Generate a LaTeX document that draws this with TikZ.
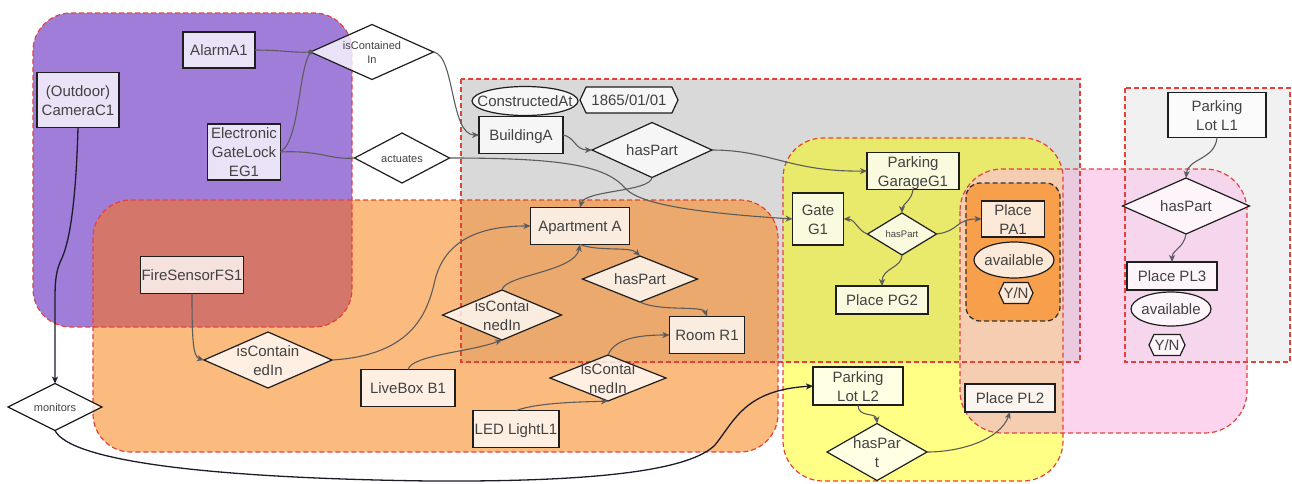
\documentclass[tikz,border=0pt]{standalone}
\usepackage{fontspec}
\setmainfont{Liberation Sans}
\usetikzlibrary{shapes.geometric,shapes.symbols,arrows.meta}
\definecolor{cP}{HTML}{A07DD8}
\definecolor{cO}{HTML}{FBBA7E}
\definecolor{cPO}{HTML}{D4776A}
\definecolor{cG}{HTML}{D9D9D9}
\definecolor{cGO}{HTML}{ECA96E}
\definecolor{cL}{HTML}{F1F1F1}
\definecolor{cY}{HTML}{FFFF85}
\definecolor{cGY}{HTML}{E9E96B}
\definecolor{cK}{HTML}{FCD4EE}
\definecolor{cYK}{HTML}{F5CEB2}
\definecolor{cGK}{HTML}{E9C9DE}
\definecolor{cLK}{HTML}{F6D6EC}
\definecolor{cD}{HTML}{F79F4B}
\definecolor{cRed}{HTML}{E5413B}
\definecolor{txt}{HTML}{424242}
\definecolor{edgec}{HTML}{5C5C5C}
\definecolor{edgek}{HTML}{1C1C2A}
\definecolor{nodeline}{HTML}{1E1E1E}
\newcommand\dt[1]{\smash{\makebox[0pt]{\raisebox{-0.36em}{\begin{tabular}{@{}c@{}}#1\end{tabular}}}}}
\newcommand\fsz[2]{\fontsize{#1}{#2}\selectfont}
\begin{document}
\begin{tikzpicture}[x=1pt,y=-1pt,
  base/.style={fill=white, fill opacity=0.78, text opacity=1, draw=nodeline, line width=1.2pt, inner sep=0pt, outer sep=0pt, text=txt, font=\fsz{15}{19}},
  bx/.style={base, rectangle},
  dm/.style={base, diamond},
  el/.style={base, ellipse},
  hx/.style={base, signal, signal to=west and east, signal pointer angle=130},
  small/.style={font=\fsz{11}{14}},
  tiny/.style={font=\fsz{9.5}{12}},
  edge/.style={draw=edgec, line width=1.1pt, -{Stealth[length=7pt,width=6pt,inset=2pt]}},
  edgeplain/.style={draw=edgec, line width=1.1pt},
  edgedark/.style={draw=edgek, line width=1.3pt, -{Stealth[length=7pt,width=6pt,inset=2pt]}},
  reg/.style={draw=cRed, line width=1.2pt, dash pattern=on 5pt off 3pt},
  regd/.style={draw=black!80, line width=1.3pt, dash pattern=on 5pt off 3pt}]
\useasboundingbox (0,0) rectangle (1292,483);
% ---------- region fills ----------
\fill[cL] (1125,88) rectangle (1290,362);
\fill[cG] (461,79) rectangle (1080,362);
\fill[cP, rounded corners=38pt] (33,13) rectangle (352,327);
\fill[cO, rounded corners=38pt] (93,200) rectangle (778,452);
\begin{scope}
  \clip[rounded corners=38pt] (33,13) rectangle (352,327);
  \fill[cPO, rounded corners=38pt] (93,200) rectangle (778,452);
\end{scope}
\begin{scope}
  \clip (461,79) rectangle (1080,362);
  \fill[cGO, rounded corners=38pt] (93,200) rectangle (778,452);
\end{scope}
\fill[cY, rounded corners=40pt] (783,138) rectangle (1063,481);
\begin{scope}
  \clip (461,79) rectangle (1080,362);
  \fill[cGY, rounded corners=40pt] (783,138) rectangle (1063,481);
\end{scope}
\fill[cK, rounded corners=42pt] (960,169) rectangle (1247,433);
\begin{scope}
  \clip[rounded corners=42pt] (960,169) rectangle (1247,433);
  \fill[cLK] (1125,88) rectangle (1290,362);
  \fill[cGK] (461,79) rectangle (1080,362);
  \fill[cYK, rounded corners=40pt] (783,138) rectangle (1063,481);
\end{scope}
\fill[cD, rounded corners=14pt] (966,183) rectangle (1060,321);
% ---------- region borders ----------
\draw[reg] (1125,88) rectangle (1290,362);
\draw[reg] (461,79) rectangle (1080,362);
\draw[reg, rounded corners=38pt] (33,13) rectangle (352,327);
\draw[reg, rounded corners=38pt] (93,200) rectangle (778,452);
\draw[reg, rounded corners=40pt] (783,138) rectangle (1063,481);
\draw[reg, rounded corners=42pt] (960,169) rectangle (1247,433);
\draw[regd, rounded corners=14pt] (966,183) rectangle (1060,321);
% ---------- nodes ----------
\node[bx, minimum width=82pt, minimum height=55pt] (cam) at (78,100) {\dt{(Outdoor)\\CameraC1}};
\node[bx, minimum width=72pt, minimum height=36pt] (alarm) at (219,50) {\dt{AlarmA1}};
\node[bx, minimum width=73pt, minimum height=56pt] (eg1) at (244,152) {\dt{Electronic\\GateLock\\EG1}};
\node[dm, small, minimum width=123pt, minimum height=55pt] (ic) at (372,52) {\dt{isContained\\In}};
\node[dm, small, minimum width=95pt, minimum height=50pt] (act) at (402,158) {\dt{actuates}};
\node[bx, minimum width=103pt, minimum height=37pt] (fs) at (192,275) {\dt{FireSensorFS1}};
\node[dm, minimum width=128pt, minimum height=56pt] (isc) at (268,360) {\dt{isContain\\edIn}};
\node[dm, small, minimum width=94pt, minimum height=47pt] (mon) at (55,407) {\dt{monitors}};
\node[el, minimum width=106pt, minimum height=29pt] (cons) at (525,101) {\dt{ConstructedAt}};
\node[hx, minimum width=98pt, minimum height=26pt] (date) at (629,100) {\dt{1865/01/01}};
\node[bx, minimum width=84pt, minimum height=37pt] (bA) at (521,135) {\dt{BuildingA}};
\node[dm, minimum width=120pt, minimum height=55pt] (hp1) at (652,150) {\dt{hasPart}};
\node[bx, minimum width=99pt, minimum height=37pt] (apt) at (580,226) {\dt{Apartment A}};
\node[dm, minimum width=115pt, minimum height=46pt] (hp2) at (640,279) {\dt{hasPart}};
\node[bx, minimum width=75pt, minimum height=37pt] (room) at (707,335) {\dt{Room R1}};
\node[dm, minimum width=119pt, minimum height=50pt] (ic2) at (502,315) {\dt{isContai\\nedIn}};
\node[dm, minimum width=116pt, minimum height=46pt] (ic3) at (608,378) {\dt{isContai\\nedIn}};
\node[bx, minimum width=94pt, minimum height=37pt] (lb) at (408,388) {\dt{LiveBox B1}};
\node[bx, minimum width=86pt, minimum height=37pt] (led) at (516,429) {\dt{LED LightL1}};
\node[bx, minimum width=92pt, minimum height=37pt] (pg) at (913,171) {\dt{Parking\\GarageG1}};
\node[bx, minimum width=51pt, minimum height=52pt] (gate) at (818,219) {\dt{Gate\\G1}};
\node[dm, tiny, minimum width=69pt, minimum height=42pt] (hs) at (902,234) {\dt{hasPart}};
\node[bx, minimum width=92pt, minimum height=28pt] (pg2) at (882,300) {\dt{Place PG2}};
\node[bx, minimum width=63pt, minimum height=36pt] (pa1) at (1013,219) {\dt{Place\\PA1}};
\node[el, minimum width=80pt, minimum height=36pt] (av1) at (1014,260) {\dt{available}};
\node[hx, minimum width=34pt, minimum height=21pt] (yn1) at (1016,293) {\dt{Y/N}};
\node[bx, minimum width=98pt, minimum height=45pt] (l1) at (1217,115) {\dt{Parking\\Lot L1}};
\node[dm, minimum width=127pt, minimum height=56pt] (hpl) at (1186,206) {\dt{hasPart}};
\node[bx, minimum width=90pt, minimum height=28pt] (pl3) at (1172,276) {\dt{Place PL3}};
\node[el, minimum width=80pt, minimum height=34pt] (av2) at (1171,309) {\dt{available}};
\node[hx, minimum width=36pt, minimum height=21pt] (yn2) at (1167,345) {\dt{Y/N}};
\node[bx, minimum width=90pt, minimum height=38pt] (pll2) at (858,386) {\dt{Parking\\Lot L2}};
\node[dm, minimum width=100pt, minimum height=57pt] (hpt) at (877,452) {\dt{hasPar\\t}};
\node[bx, minimum width=90pt, minimum height=28pt] (pl2) at (1010,398) {\dt{Place PL2}};
% ---------- connectors ----------
\draw[edgeplain] (alarm.east) .. controls (280,50) and (295,53) .. (ic.west);
\draw[edgeplain] (eg1.east) .. controls (300,140) and (298,70) .. (ic.west);
\fill[edgec] (ic.west) circle (2.5pt);
\draw[edge] (ic.east) .. controls (455,55) and (450,135) .. (bA.west);
\draw[edgeplain] (eg1.east) .. controls (320,150) and (330,160) .. (act.west);
\draw[edge] (act.east) .. controls (560,158) and (605,165) .. (625,188) .. controls (640,205) and (700,213) .. (gate.west);
\draw[edge] (bA.east) .. controls (575,137) and (575,150) .. (hp1.west);
\draw[edge] (hp1.east) .. controls (770,150) and (790,172) .. (pg.west);
\draw[edge] (hp1.south) .. controls (650,192) and (585,190) .. (apt.north);
\draw[edge] (apt.south) .. controls (600,252) and (630,246) .. (hp2.north);
\draw[edge] (hp2.south) .. controls (660,312) and (703,305) .. (room.north);
\draw[edge] (fs.south) .. controls (192,340) and (193,357) .. (isc.west);
\draw[edge] (isc.east) .. controls (415,355) and (428,310) .. (435,280) .. controls (445,240) and (480,226) .. (apt.west);
\draw[edge] (lb.north) .. controls (412,355) and (470,352) .. (ic2.south);
\draw[edge] (ic2.north) .. controls (504,275) and (575,272) .. (apt.south);
\draw[edge] (led.north) .. controls (540,402) and (585,402) .. (ic3.south);
\draw[edge] (ic3.north) .. controls (615,338) and (640,335) .. (room.west);
\draw[edgedark] (cam.south) .. controls (76,200) and (70,240) .. (62,258) .. controls (56,270) and (55,280) .. (55,300) -- (mon.north);
\draw[edgedark] (mon.south) .. controls (70,460) and (200,478) .. (430,481) .. controls (600,482) and (690,470) .. (715,445) .. controls (735,420) and (745,390) .. (pll2.west);
\draw[edge] (pg.south) .. controls (912,200) and (902,205) .. (hs.north);
\draw[edge] (hs.west) .. controls (858,231) and (855,219) .. (gate.east);
\draw[edge] (hs.east) .. controls (960,231) and (955,219) .. (pa1.west);
\draw[edge] (hs.south) .. controls (902,268) and (882,268) .. (pg2.north);
\draw[edge] (l1.south) .. controls (1215,160) and (1188,158) .. (hpl.north);
\draw[edge] (hpl.south) .. controls (1184,248) and (1172,250) .. (pl3.north);
\draw[edge] (pll2.south) .. controls (858,418) and (876,412) .. (hpt.north);
\draw[edge] (hpt.east) .. controls (960,452) and (1000,440) .. (pl2.south);
\end{tikzpicture}
\end{document}
